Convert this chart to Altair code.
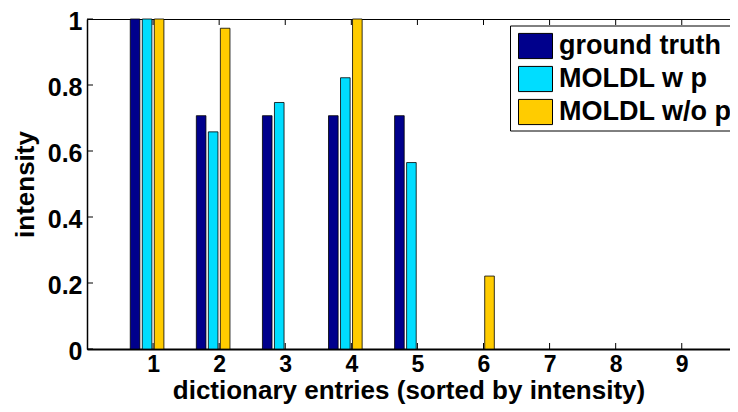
import altair as alt
import pandas as pd

# ---- data ----
entries = [1, 2, 3, 4, 5, 6, 7, 8, 9]
ground_truth = [1.0, 0.707, 0.707, 0.707, 0.707, 0.0, 0.0, 0.0, 0.0]
moldl_w_p = [1.0, 0.658, 0.747, 0.822, 0.565, 0.0, 0.0, 0.0, 0.0]
moldl_wo_p = [1.0, 0.972, 0.0, 1.0, 0.0, 0.221, 0.0, 0.0, 0.0]
series_names = ["ground truth", "MOLDL w p", "MOLDL w/o p"]
series_colors = ["#00008C", "#00DDFF", "#FFCC00"]
x_ticks = [1, 2, 3, 4, 5, 6, 7, 8, 9]
y_ticks = [0, 0.2, 0.4, 0.6, 0.8, 1]

rows = []
for idx, (name, vals) in enumerate(zip(series_names, [ground_truth, moldl_w_p, moldl_wo_p])):
    for e, v in zip(entries, vals):
        rows.append({"entry": e, "value": v, "series": name, "idx": idx})
df = pd.DataFrame(rows)

W, H = 643, 330
FONT = "Liberation Sans"
x_scale = alt.Scale(domain=[0, 9.73], nice=False, zero=False)
y_scale = alt.Scale(domain=[0, 1], nice=False)

x_axis = alt.Axis(values=x_ticks, title="dictionary entries (sorted by intensity)",
                  tickSize=0, domainColor="black", domainWidth=2,
                  labelFont=FONT, labelFontSize=23, labelFontWeight="bold",
                  labelColor="black", labelPadding=4,
                  titleFont=FONT, titleFontSize=26, titleFontWeight="bold",
                  titleColor="black", titleBaseline="alphabetic", titleY=49,
                  grid=False)
y_axis = alt.Axis(values=y_ticks, format="~g", title="intensity",
                  tickSize=0, domainColor="black", domainWidth=1.5,
                  labelFont=FONT, labelFontSize=25, labelFontWeight="bold",
                  labelColor="black", labelPadding=5, labelOffset=2,
                  titleFont=FONT, titleFontSize=26, titleFontWeight="bold",
                  titleColor="black", titlePadding=9, grid=False)

bars = alt.Chart(df).transform_calculate(
    xc="datum.entry + (datum.idx - 1.5) * 0.1818",
    base="0"
).transform_calculate(
    x0="datum.xc - 0.0727", x1="datum.xc + 0.0727"
).transform_filter("datum.value > 0").mark_bar(stroke="black", strokeWidth=0.8, opacity=1).encode(
    x=alt.X("x0:Q", scale=x_scale, axis=x_axis),
    x2="x1:Q",
    y=alt.Y("value:Q", scale=y_scale, axis=y_axis),
    y2="base:Q",
    fill=alt.Fill("series:N", sort=series_names,
                  scale=alt.Scale(domain=series_names, range=series_colors),
                  legend=alt.Legend(title=None, orient="none", legendX=423, legendY=6.5,
                                    direction="vertical",
                                    symbolType="M-1,-0.74H1V0.74H-1Z", symbolSize=1156,
                                    symbolStrokeColor="black", symbolStrokeWidth=1,
                                    symbolOpacity=1, symbolOffset=5,
                                    labelFont=FONT, labelFontSize=27, labelFontWeight="bold",
                                    labelColor="black", labelOffset=6, labelLimit=400,
                                    padding=3, strokeColor="black", fillColor="white",
                                    rowPadding=0)),
)

tick_x = pd.DataFrame({"t": x_ticks})
tick_y = pd.DataFrame({"t": y_ticks})

top_ticks = alt.Chart(tick_x).mark_rule(color="black", strokeWidth=1).encode(
    x=alt.X("t:Q", scale=x_scale, axis=x_axis), y=alt.value(0), y2=alt.value(6))
bottom_ticks = alt.Chart(tick_x).mark_rule(color="black", strokeWidth=1).encode(
    x=alt.X("t:Q", scale=x_scale, axis=x_axis), y=alt.value(H), y2=alt.value(H - 6))
left_ticks = alt.Chart(tick_y).mark_rule(color="black", strokeWidth=1).encode(
    y=alt.Y("t:Q", scale=y_scale, axis=y_axis), x=alt.value(0), x2=alt.value(6))

chart = alt.layer(bars, top_ticks, bottom_ticks, left_ticks).properties(
    width=W, height=H,
    autosize=alt.AutoSizeParams(type="none"),
    padding={"left": 79, "top": 11, "right": 0, "bottom": 55},
    background="white",
).configure_view(stroke="black", strokeWidth=1)

chart.save("out.html", embed_options={"renderer": "svg", "actions": False})
